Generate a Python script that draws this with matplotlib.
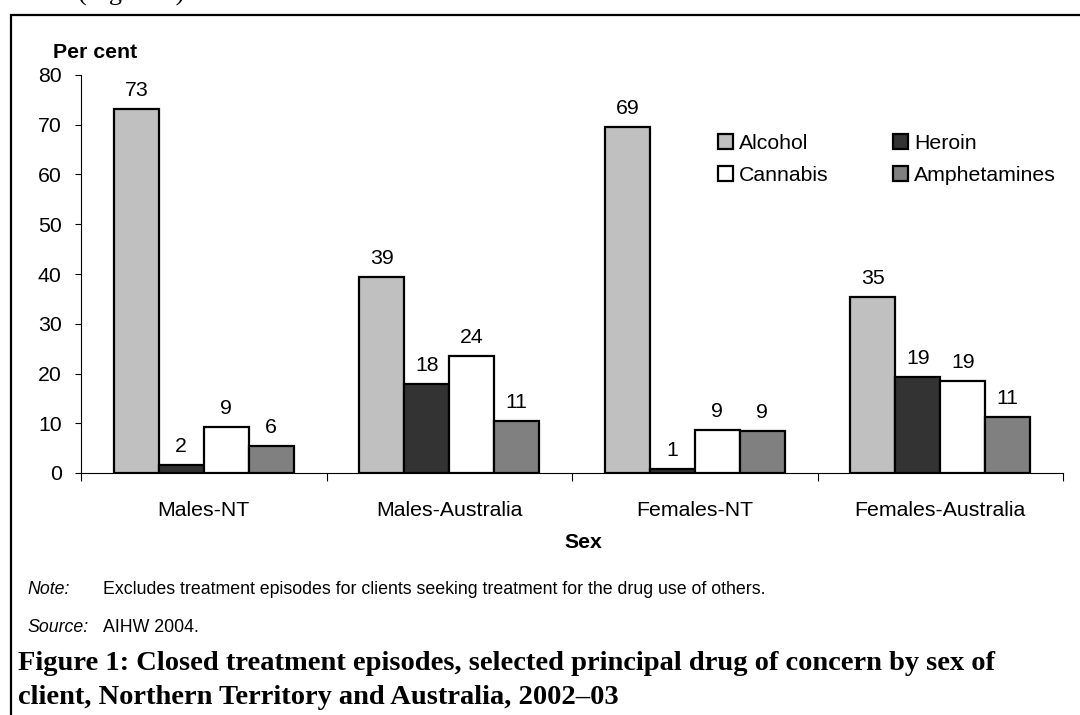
import matplotlib
matplotlib.use("Agg")
import matplotlib.pyplot as plt
import numpy as np
from matplotlib.patches import Rectangle

# data
groups = ["Males-NT", "Males-Australia", "Females-NT", "Females-Australia"]
drugs = ["Alcohol", "Heroin", "Cannabis", "Amphetamines"]
alcohol = [73.2, 39.4, 69.5, 35.4]
heroin = [1.6, 17.9, 0.8, 19.3]
cannabis = [9.2, 23.5, 8.6, 18.5]
amphetamines = [5.4, 10.5, 8.5, 11.3]
alcohol_lbl = ["73", "39", "69", "35"]
heroin_lbl = ["2", "18", "1", "19"]
cannabis_lbl = ["9", "24", "9", "19"]
amphetamines_lbl = ["6", "11", "9", "11"]

series = [alcohol, heroin, cannabis, amphetamines]
series_lbl = [alcohol_lbl, heroin_lbl, cannabis_lbl, amphetamines_lbl]
colours = ["#c0c0c0", "#333333", "#ffffff", "#808080"]

plt.rcParams['font.family'] = ['Liberation Sans', 'DejaVu Sans']
fs = 15.3
serif = ["Liberation Serif", "DejaVu Serif"]

W, H = 1080, 715
fig = plt.figure(figsize=(W/100, H/100), dpi=100)

def fx(x):
    return x / W

def fy(y):
    return 1 - y / H

# axes placed in pixel terms
x0, x1, y0, y1 = 81, 1063, 473, 75
ax = fig.add_axes([fx(x0), fy(y0), (x1 - x0)/W, (y0 - y1)/H])

n = len(groups)
bw = 0.183
centres = np.arange(n) + 0.5
for k, (vals, lbls) in enumerate(zip(series, series_lbl)):
    xs = centres + (k - 1.5) * bw
    ax.bar(xs, vals, width=bw, color=colours[k], edgecolor="black",
           linewidth=1.6, label=drugs[k], zorder=3)
    for xv, v, t in zip(xs, vals, lbls):
        ax.annotate(t, (xv, v), xytext=(0, 9.4), textcoords="offset points",
                    ha="center", va="baseline", fontsize=fs)

ax.set_xlim(0, n)
ax.set_ylim(0, 80)
ax.set_yticks(range(0, 81, 10))
ax.set_xticks(range(0, n + 1))
ax.set_xticklabels([""] * (n + 1))
ax.set_xticks(centres, minor=True)
ax.set_xticklabels(groups, minor=True)
ax.tick_params(axis="y", direction="out", length=4, width=0.8, pad=10, labelsize=fs)
ax.tick_params(axis="x", which="major", direction="out", length=5.5, width=0.8)
ax.tick_params(axis="x", which="minor", length=0, pad=20, labelsize=fs)
for s in ["top", "right"]:
    ax.spines[s].set_visible(False)
for s in ["left", "bottom"]:
    ax.spines[s].set_linewidth(0.8)

# legend in two columns
handles, labels = ax.get_legend_handles_labels()
order = [0, 2, 1, 3]
ax.legend([handles[i] for i in order], [labels[i] for i in order], ncol=2,
          loc="upper left", bbox_to_anchor=((718 - x0)/(x1 - x0), (y0 - 134)/(y0 - y1)),
          frameon=False, borderpad=0, borderaxespad=0, handlelength=0.7,
          handleheight=0.7, handletextpad=0.28, columnspacing=3.05,
          labelspacing=0.6, fontsize=fs)

fig.text(fx(53), fy(52), "Per cent", fontsize=fs, fontweight="bold", va="center")
fig.text(fx(583), fy(542), "Sex", fontsize=fs, fontweight="bold", ha="center", va="center")

# notes and caption
nfs = 12.8
fig.text(fx(27), fy(590), "Note:", fontsize=nfs, style="italic", va="center")
fig.text(fx(103), fy(590), "Excludes treatment episodes for clients seeking treatment for the drug use of others.",
         fontsize=nfs, va="center")
fig.text(fx(27), fy(627), "Source:", fontsize=nfs, style="italic", va="center")
fig.text(fx(103), fy(627), "AIHW 2004.", fontsize=nfs, va="center")
cap = dict(fontsize=20.5, fontweight="bold", family=serif, va="center")
fig.text(fx(18), fy(663), "Figure 1: Closed treatment episodes, selected principal drug of concern by sex of", **cap)
fig.text(fx(18), fy(697), "client, Northern Territory and Australia, 2002\u201303", **cap)

# page text cut off at the top
fig.text(fx(78), fy(0.5), "(Figure 1)", fontsize=19, family=serif, va="baseline")

# frame round the figure, running off the page
fig.add_artist(Rectangle((fx(11), -0.2), 1.2, fy(15) + 0.2, transform=fig.transFigure,
                         fill=False, edgecolor="black", linewidth=1.6))

plt.savefig("out.png", dpi=100)
